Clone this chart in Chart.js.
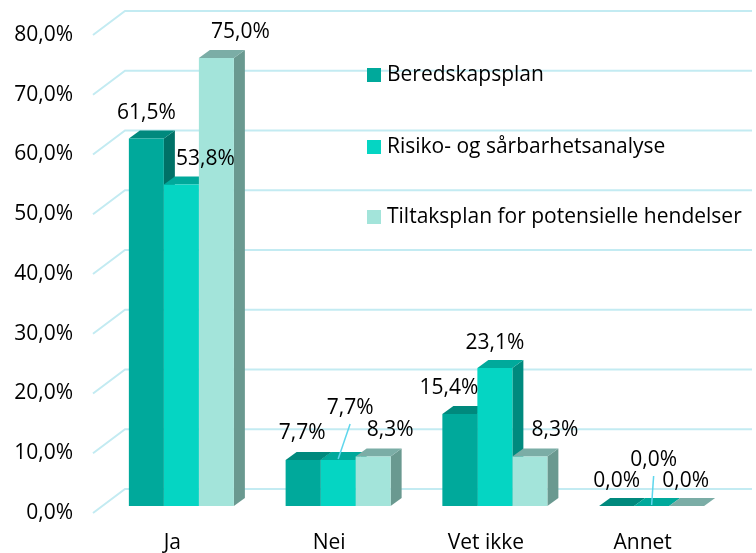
<!DOCTYPE html>
<html>
<head>
<meta charset="utf-8">
<script src="https://cdn.jsdelivr.net/npm/chart.js@4/dist/chart.umd.min.js"></script>
<style>
  html, body { margin: 0; padding: 0; background: #fff; }
  #wrap { width: 756px; height: 553px; }
</style>
</head>
<body>
<div id="wrap"><canvas id="myChart" width="756" height="553"></canvas></div>
<script>
// data
var categories = ['Ja', 'Nei', 'Vet ikke', 'Annet'];
var seriesNames = ['Beredskapsplan', 'Risiko- og sårbarhetsanalyse', 'Tiltaksplan for potensielle hendelser'];
var beredskap = [61.5, 7.7, 15.4, 0.0];
var risiko = [53.8, 7.7, 23.1, 0.0];
var tiltak = [75.0, 8.3, 8.3, 0.0];
var yTicks = [0, 10, 20, 30, 40, 50, 60, 70, 80];

// colours: front, top, side
var frontCol = ['#00A99B', '#05D5C3', '#A3E4DA'];
var topCol = ['#00897D', '#00A99B', '#7BADA6'];
var sideCol = ['#007167', '#008A7E', '#6A9990'];

var FONT = '"Open Sans", Lato, sans-serif';
var FS = 21;
var DX = 11, DY = -8;

// label nudges (Excel moves some labels to avoid overlaps) [category][series] = [dx, dy]
var nudge = [
    [[0, -26], [24, -26], [24, -26]],
    [[-1, -27], [12, -52], [17, -26]],
    [[-11, -26], [0, -25], [25, -26]],
    [[0, -25], [2, -46], [-1, -25]]
];

function fmt(v){
    return v.toFixed(1).replace('.', ',') + '%';
}

function poly(ctx, pts){
    ctx.beginPath();
    ctx.moveTo(pts[0][0], pts[0][1]);
    for (let i = 1; i < pts.length; i++) ctx.lineTo(pts[i][0], pts[i][1]);
    ctx.closePath();
    ctx.fill();
}

var threeD = {
    id: 'threeD',
    beforeDatasetsDraw: function(chart){
        const ctx = chart.ctx;
        const y = chart.scales.y;
        ctx.save();
        // floor / back wall gridlines
        ctx.strokeStyle = '#c3ebf2';
        ctx.lineWidth = 2;
        yTicks.forEach(function(v){
            const yy = y.getPixelForValue(v);
            ctx.beginPath();
            ctx.moveTo(93, yy + 7);
            ctx.lineTo(125, yy - 17);
            ctx.lineTo(752, yy - 17);
            ctx.stroke();
        });
        // side and top faces, left to right
        for (let c = 0; c < categories.length; c++) {
            for (let i = 0; i < chart.data.datasets.length; i++) {
                const bar = chart.getDatasetMeta(i).data[c];
                const p = bar.getProps(['x', 'y', 'base', 'width'], true);
                const l = p.x - p.width / 2, r = p.x + p.width / 2;
                ctx.fillStyle = sideCol[i];
                poly(ctx, [[r, p.y], [r + DX, p.y + DY], [r + DX, p.base + DY], [r, p.base]]);
                ctx.fillStyle = topCol[i];
                poly(ctx, [[l, p.y], [r, p.y], [r + DX, p.y + DY], [l + DX, p.y + DY]]);
            }
        }
        ctx.restore();
    },
    afterDatasetsDraw: function(chart){
        const ctx = chart.ctx;
        ctx.save();
        ctx.font = FS + 'px ' + FONT;
        ctx.fillStyle = '#000';
        ctx.textAlign = 'center';
        ctx.textBaseline = 'middle';
        for (let c = 0; c < categories.length; c++) {
            for (let i = 0; i < chart.data.datasets.length; i++) {
                const bar = chart.getDatasetMeta(i).data[c];
                const p = bar.getProps(['x', 'y'], true);
                const n = nudge[c][i];
                const lx = p.x + n[0], ly = p.y + n[1];
                ctx.fillText(fmt(chart.data.datasets[i].data[c]), lx, ly);
                if (n[1] < -40) {
                    // leader line
                    ctx.strokeStyle = '#5ed6ec';
                    ctx.lineWidth = 1.5;
                    ctx.beginPath();
                    ctx.moveTo(lx, ly + 16);
                    ctx.lineTo(p.x, p.y - 1);
                    ctx.stroke();
                }
            }
        }
        // legend
        ctx.textAlign = 'left';
        const rows = [75, 147, 217];
        chart.data.datasets.forEach(function(ds, i){
            ctx.fillStyle = frontCol[i];
            ctx.fillRect(367, rows[i] - 7, 14, 14);
            ctx.fillStyle = '#000';
            ctx.fillText(ds.label, 387, rows[i]);
        });
        ctx.restore();
    }
};

var ctx = document.getElementById('myChart').getContext('2d');
var myChart = new Chart(ctx, {
    type: 'bar',
    data: {
        labels: categories,
        datasets: [
            { label: seriesNames[0], data: beredskap, backgroundColor: frontCol[0] },
            { label: seriesNames[1], data: risiko, backgroundColor: frontCol[1] },
            { label: seriesNames[2], data: tiltak, backgroundColor: frontCol[2] }
        ]
    },
    options: {
        responsive: false,
        animation: false,
        layout: { padding: { top: 28, right: 26, left: 0, bottom: 0 } },
        datasets: { bar: { categoryPercentage: 0.67, barPercentage: 1, borderWidth: 0 } },
        plugins: {
            legend: { display: false },
            tooltip: { enabled: false }
        },
        scales: {
            x: {
                grid: { display: false },
                border: { display: false },
                ticks: { color: '#000', font: { family: FONT, size: FS }, labelOffset: -9, padding: 16 },
                afterFit: function(s){ s.height = 47; s.paddingLeft = 0; s.paddingRight = 0; }
            },
            y: {
                min: 0,
                max: 80,
                grid: { display: false },
                border: { display: false },
                ticks: {
                    stepSize: 10,
                    color: '#000',
                    font: { family: FONT, size: FS },
                    padding: 22,
                    labelOffset: 7,
                    callback: function(v){ return fmt(v); }
                },
                afterFit: function(s){ s.width = 103; s.paddingTop = 0; s.paddingBottom = 0; }
            }
        }
    },
    plugins: [threeD]
});
</script>
</body>
</html>
